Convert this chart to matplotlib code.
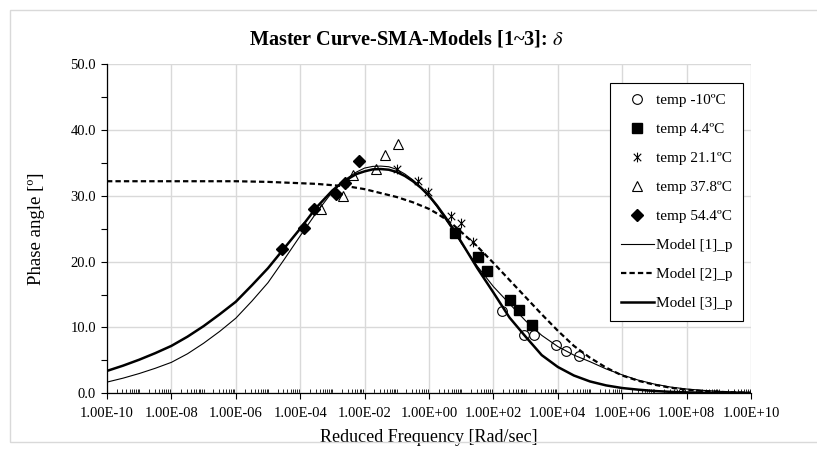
import numpy as np
import matplotlib
matplotlib.use("Agg")
import matplotlib.pyplot as plt
from matplotlib.path import Path
from matplotlib.patches import Rectangle
from matplotlib.ticker import FixedLocator, LogLocator, NullFormatter, FuncFormatter, MultipleLocator

plt.rcParams['font.family'] = ['Liberation Serif', 'DejaVu Serif']
plt.rcParams['mathtext.fontset'] = 'stix'

# datos medidos (log10 de la frecuencia reducida, angulo de fase)
t_m10_logf = [2.27, 2.96, 3.26, 3.94, 4.24, 4.66]
t_m10_phase = [12.5, 8.9, 8.8, 7.4, 6.4, 5.7]
t_4_logf = [0.81, 1.51, 1.81, 2.51, 2.80, 3.20]
t_4_phase = [24.4, 20.7, 18.5, 14.1, 12.7, 10.4]
t_21_logf = [-1.00, -0.34, -0.02, 0.68, 0.99, 1.36]
t_21_phase = [34.0, 32.2, 30.6, 26.9, 25.8, 23.0]
t_37_logf = [-3.34, -2.68, -2.37, -1.65, -1.37, -0.97]
t_37_phase = [28.0, 29.9, 33.1, 34.0, 36.2, 37.8]
t_54_logf = [-4.57, -3.88, -3.58, -2.89, -2.60, -2.17]
t_54_phase = [21.9, 25.1, 28.0, 30.2, 32.0, 35.2]

# modelos
model_logf = [-10, -9.5, -9, -8.5, -8, -7.5, -7, -6.5, -6, -5.5, -5, -4.5, -4, -3.5, -3,
              -2.75, -2.5, -2.25, -2, -1.75, -1.5, -1.25, -1, -0.75, -0.5, -0.25, 0, 0.25, 0.5, 0.75, 1,
              1.5, 2, 2.5, 3, 3.5, 4, 4.5, 5, 5.5, 6, 6.5, 7, 7.5, 8, 8.5, 9, 9.5, 10]
model1 = [1.7, 2.3, 3.0, 3.8, 4.7, 6.0, 7.6, 9.4, 11.4, 14.0, 16.8, 20.3, 23.9, 27.4, 30.6,
          31.8, 32.8, 33.6, 34.2, 34.45, 34.5, 34.4, 34.0, 33.3, 32.4, 31.3, 29.9, 28.3, 26.5, 24.7, 22.8,
          19.3, 16.2, 13.6, 11.0, 8.8, 7.1, 5.8, 4.8, 3.7, 2.8, 2.0, 1.4, 0.95, 0.65, 0.45, 0.3, 0.2, 0.13]
model2 = [32.2, 32.2, 32.2, 32.2, 32.2, 32.2, 32.2, 32.2, 32.2, 32.15, 32.1, 32.0, 31.9, 31.8, 31.6,
          31.5, 31.4, 31.2, 31.0, 30.7, 30.4, 30.1, 29.8, 29.4, 29.0, 28.5, 28.0, 27.3, 26.5, 25.6, 24.5,
          22.3, 19.8, 17.2, 14.6, 12.0, 9.5, 7.2, 5.4, 3.9, 2.7, 1.9, 1.3, 0.85, 0.55, 0.35, 0.22, 0.14, 0.09]
model3 = [3.4, 4.2, 5.1, 6.1, 7.2, 8.6, 10.2, 12.0, 13.9, 16.4, 19.0, 22.0, 25.0, 28.2, 30.8,
          31.8, 32.6, 33.3, 33.7, 34.0, 34.05, 33.95, 33.6, 33.0, 32.2, 31.2, 30.0, 28.5, 26.8, 25.0, 23.0,
          19.0, 15.3, 11.5, 8.6, 5.8, 4.0, 2.7, 1.8, 1.2, 0.8, 0.55, 0.35, 0.22, 0.14, 0.09, 0.06, 0.04, 0.02]

# marcador tipo asterisco de Excel
star = Path([(-1, -1), (1, 1), (-1, 1), (1, -1), (0, -1.3), (0, 1.3)],
            [Path.MOVETO, Path.LINETO, Path.MOVETO, Path.LINETO, Path.MOVETO, Path.LINETO])

fig = plt.figure(figsize=(8.17, 4.5), dpi=100)
ax = fig.add_axes([107/817, 1 - 393.3/450, (751 - 107)/817, (393.3 - 64)/450])

# borde del area del grafico
fig.patches.append(Rectangle((10/817, 8/450), 900/817, 432/450, transform=fig.transFigure,
                             fill=False, edgecolor='#d9d9d9', linewidth=1))

f = lambda lst: 10.0 ** np.array(lst)

ax.plot(f(t_m10_logf), t_m10_phase, 'o', ms=7, mfc='white', mec='black', mew=0.8, label='temp -10ºC', zorder=3)
ax.plot(f(t_4_logf), t_4_phase, 's', ms=7, mfc='black', mec='black', label='temp 4.4ºC', zorder=3)
ax.plot(f(t_21_logf), t_21_phase, linestyle='none', marker=star, ms=7, mec='black', mew=0.8, label='temp 21.1ºC', zorder=3)
ax.plot(f(t_37_logf), t_37_phase, '^', ms=7.5, mfc='white', mec='black', mew=0.8, label='temp 37.8ºC', zorder=3)
ax.plot(f(t_54_logf), t_54_phase, 'D', ms=6, mfc='black', mec='black', label='temp 54.4ºC', zorder=3)

ax.plot(f(model_logf), model1, '-', color='black', lw=0.8, label='Model [1]_p', zorder=4)
ax.plot(f(model_logf), model2, '--', color='black', lw=1.6, dashes=(2.4, 1.4), label='Model [2]_p', zorder=4)
ax.plot(f(model_logf), model3, '-', color='black', lw=1.8, label='Model [3]_p', zorder=4)

ax.set_xscale('log')
ax.set_xlim(1e-10, 1e10)
ax.set_ylim(0, 50)

ax.xaxis.set_major_locator(FixedLocator([10.0 ** k for k in range(-10, 11, 2)]))
ax.xaxis.set_major_formatter(FuncFormatter(lambda v, p: '{:.2E}'.format(v)))
ax.xaxis.set_minor_locator(LogLocator(base=10, subs=np.arange(1, 10), numticks=200))
ax.xaxis.set_minor_formatter(NullFormatter())
ax.yaxis.set_major_locator(MultipleLocator(10))
ax.yaxis.set_minor_locator(MultipleLocator(5))
ax.yaxis.set_major_formatter(FuncFormatter(lambda v, p: '{:.1f}'.format(v)))

ax.tick_params(axis='x', which='major', direction='out', length=4, width=0.8, labelsize=10.5, pad=6)
ax.tick_params(axis='x', which='minor', direction='in', length=3, width=0.6)
ax.tick_params(axis='y', which='major', direction='out', length=4, width=0.8, labelsize=10.5, pad=4)
ax.tick_params(axis='y', which='minor', direction='out', length=4, width=0.8)

ax.grid(True, which='major', color='#d9d9d9', linewidth=1)
ax.set_axisbelow(True)
for s in ['top', 'right']:
    ax.spines[s].set_visible(False)
for s in ['left', 'bottom']:
    ax.spines[s].set_linewidth(0.9)

ax.set_xlabel('Reduced Frequency [Rad/sec]', fontsize=13, labelpad=6)
ax.set_ylabel('Phase angle [º]', fontsize=13.5, labelpad=18)
fig.text(0.497, 1 - 39/450, r'Master Curve-SMA-Models [1~3]: $\delta$', ha='center', va='center',
         fontsize=14.6, fontweight='bold')

leg = ax.legend(loc='upper right', bbox_to_anchor=(743/817, 1 - 83/450), bbox_transform=fig.transFigure,
                fontsize=11, labelspacing=1.0, fancybox=False, framealpha=1, edgecolor='black',
                borderaxespad=0, handlelength=2.2, handletextpad=0.1, borderpad=0.7)
leg.get_frame().set_linewidth(0.8)

fig.savefig('out.png', dpi=100)
